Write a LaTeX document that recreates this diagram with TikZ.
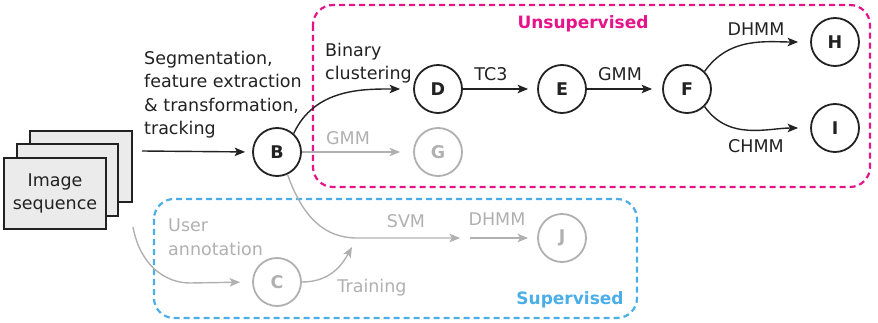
\documentclass[tikz,border=0pt]{standalone}
\usepackage{fontspec}
\setmainfont{DejaVu Sans}
\usetikzlibrary{arrows.meta}
\definecolor{dark}{HTML}{222222}
\definecolor{lgray}{HTML}{B0B0B0}
\definecolor{pinkc}{HTML}{E6148A}
\definecolor{bluec}{HTML}{4BAEE8}
\definecolor{boxfill}{HTML}{EBEBEB}
\begin{document}
\begin{tikzpicture}[x=1pt,y=-1pt,
  st/.style={circle,draw=dark,text=dark,line width=1.8pt,minimum size=48pt,inner sep=0pt,font=\fontsize{17.5}{17.5}\selectfont\bfseries},
  gst/.style={st,draw=lgray,text=lgray},
  arr/.style={-{Stealth[length=10.5pt,width=8.5pt,inset=2.5pt]},line width=1.4pt,draw=dark},
  garr/.style={arr,draw=lgray},
  lbl/.style={font=\fontsize{17.5}{23.5}\selectfont,text=dark,inner sep=0pt},
  glbl/.style={lbl,text=lgray},
  frame/.style={rounded corners=20pt,line width=2.2pt,dash pattern=on 6pt off 4pt},
  stack/.style={draw=dark,fill=boxfill,line width=1.6pt}
]
\useasboundingbox (0,0) rectangle (878,323);
% group frames
\draw[frame,draw=pinkc] (313,5) rectangle (870,187);
\draw[frame,draw=bluec] (154,199) rectangle (637,318);
\node[font=\fontsize{17}{17}\selectfont\bfseries,text=pinkc] (uns) at (583,24) {Unsupervised};
\node[font=\fontsize{17}{17}\selectfont\bfseries,text=bluec] (sup) at (570,300) {Supervised};
% image stack
\draw[stack] (30,131) rectangle (132,202);
\draw[stack] (17,144) rectangle (118,216);
\node[stack,minimum width=102pt,minimum height=71pt,inner sep=0pt,align=center,font=\fontsize{17.5}{23}\selectfont,text=dark] (img) at (55,193.5) {Image\\sequence};
% nodes
\node[st] (B) at (277,152) {B};
\node[st] (D) at (438,89) {D};
\node[st] (E) at (562,89) {E};
\node[st] (F) at (687,89) {F};
\node[st] (H) at (835,42) {H};
\node[st] (I) at (835,128) {I};
\node[gst] (G) at (438,152) {G};
\node[gst] (C) at (277,282) {C};
\node[gst] (J) at (562,238) {J};
% free ends
\coordinate (a0) at (142,151);
\coordinate (u0) at (133,227);
\coordinate (j1) at (357,238);
\coordinate (svm) at (460,238);
\coordinate (d0) at (470,238);
\coordinate (tr) at (352,247);
% black connectors
\draw[arr,shorten >=7pt] (a0) -- (B.west);
\draw[arr,shorten >=13pt] (B.48) to[out=65,in=180] (D.west);
\draw[arr,shorten >=9pt] (D.east) -- (E.west);
\draw[arr,shorten >=10pt] (E.east) -- (F.west);
\draw[arr,shorten >=12pt] (F.45) to[out=55,in=180] (H.west);
\draw[arr,shorten >=12pt] (F.-45) to[out=-55,in=180] (I.west);
% gray connectors
\draw[garr,shorten >=13pt] (B.east) -- (G.west);
\draw[garr] (B.-65) .. controls (303,218) and (325,238) .. (j1) -- (svm);
\draw[garr,shorten >=9pt] (d0) -- (J.west);
\draw[garr,shorten >=12pt] (u0) .. controls (140,265) and (165,283) .. (190,283) -- (C.west);
\draw[garr] (C.east) .. controls (330,282) and (342,265) .. (tr);
% labels
\node[lbl,anchor=base west,align=left] (lab1) at (144,135) {Segmentation,\\feature extraction\\\& transformation,\\tracking};
\node[lbl,anchor=base west,align=left] (lab2) at (325,80) {Binary\\clustering};
\node[lbl] (l3) at (491,74) {TC3};
\node[lbl] (l4) at (620,74) {GMM};
\node[lbl] (l5) at (756,29) {DHMM};
\node[lbl] (l6) at (756,146) {CHMM};
\node[glbl] (l7) at (348,138) {GMM};
\node[glbl] (l8) at (406,221) {SVM};
\node[glbl] (l9) at (497,219) {DHMM};
\node[glbl] (l10) at (372,288) {Training};
\node[glbl,anchor=base west,align=left] (l11) at (168,255) {User\\annotation};
\end{tikzpicture}
\end{document}
